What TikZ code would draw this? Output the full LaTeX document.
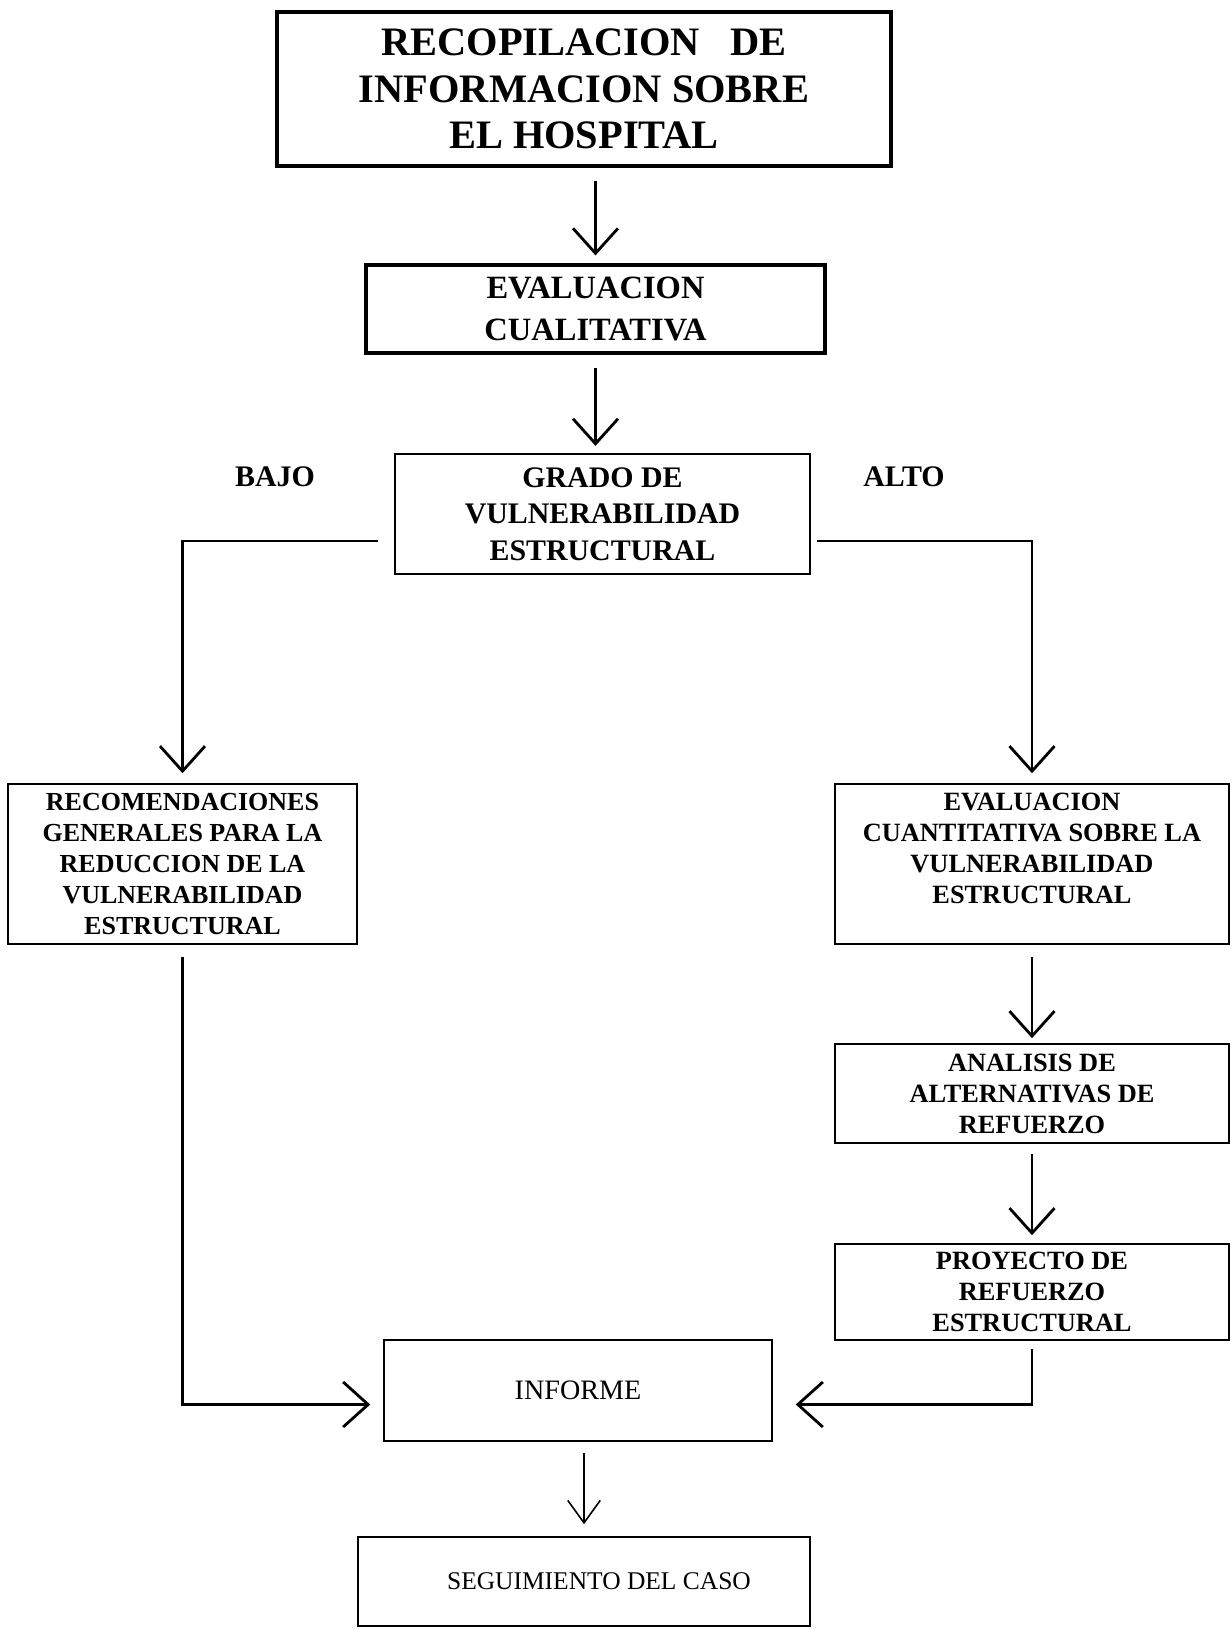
\documentclass[tikz,border=0pt]{standalone}
\usepackage{fontspec}
\setmainfont{Liberation Serif}
\usepackage{tikz}
\usetikzlibrary{arrows.meta}
\newcommand{\boxthick}{2.6pt}
\newcommand{\boxmid}{1.8pt}
\newcommand{\boxthin}{0.9pt}
\newcommand{\connline}{1.6pt}
\tikzset{
  box/.style={draw, align=center, inner sep=2pt},
  arr/.style={-{Straight Barb[length=5mm,width=9mm]}, line width=\connline},
  thinarr/.style={-{Straight Barb[length=4.5mm,width=6.5mm]}, line width=0.9pt},
}

\begin{document}
\begin{tikzpicture}[x=0.02cm, y=-0.02cm]
\useasboundingbox (0,0) rectangle (1231,1629);
\node[box, line width=\boxthick, minimum width=12.28cm, minimum height=3.08cm, font=\bfseries\fontsize{23}{26.5}\selectfont] (1) at (584,89) {RECOPILACION\hspace{0.75em}DE\\INFORMACION SOBRE\\EL HOSPITAL};
\node[box, line width=\boxmid, minimum width=9.18cm, minimum height=1.76cm, font=\bfseries\fontsize{18.5}{23.6}\selectfont] (2) at (595.5,309) {EVALUACION\\CUALITATIVA};
\node[box, line width=1.3pt, minimum width=8.3cm, minimum height=2.4cm, font=\bfseries\fontsize{17}{20.7}\selectfont] (3) at (602.5,514) {GRADO DE\\VULNERABILIDAD\\ESTRUCTURAL};
\node[font=\bfseries\fontsize{17}{20}\selectfont] (10) at (275,477) {BAJO};
\node[font=\bfseries\fontsize{17}{20}\selectfont] (11) at (904,477) {ALTO};
\node[box, line width=\boxthin, minimum width=6.98cm, minimum height=3.2cm, font=\bfseries\fontsize{14.8}{17.7}\selectfont] (4) at (182.5,864) {RECOMENDACIONES\\GENERALES PARA LA\\REDUCCION DE LA\\VULNERABILIDAD\\ESTRUCTURAL};
\node[box, line width=\boxthin, minimum width=7.88cm, minimum height=3.2cm, font=\bfseries\fontsize{15}{17.7}\selectfont] (5) at (1032,864) {EVALUACION\\CUANTITATIVA SOBRE LA\\VULNERABILIDAD\\ESTRUCTURAL\\\mbox{}};
\node[box, line width=\boxthin, minimum width=7.88cm, minimum height=1.98cm, font=\bfseries\fontsize{15}{17.7}\selectfont] (6) at (1032,1093.5) {ANALISIS DE\\ALTERNATIVAS DE\\REFUERZO};
\node[box, line width=\boxthin, minimum width=7.88cm, minimum height=1.92cm, font=\bfseries\fontsize{15}{17.7}\selectfont] (7) at (1032,1292) {PROYECTO DE\\REFUERZO\\ESTRUCTURAL};
\node[box, line width=\boxthin, minimum width=7.76cm, minimum height=2.02cm, font=\fontsize{16}{19}\selectfont] (8) at (578,1390.5) {INFORME};
\node[box, line width=\boxthin, minimum width=9.04cm, minimum height=1.78cm, font=\fontsize{14.5}{17}\selectfont] (9) at (584,1581.5) {\hspace{0.6cm}SEGUIMIENTO DEL CASO};
%main line
\draw[arr, shorten <=2.6mm, shorten >=1.6mm] (1.south -| 2.north) -- (2.north);
\draw[arr, shorten <=2.6mm, shorten >=1.4mm] (2.south) -- (2.south |- 3.north);
%bajo
\draw[arr, shorten <=3.2mm, shorten >=2mm] ([yshift=-5.4mm]3.west) -| (4.north);
\draw[arr, shorten <=2.4mm, shorten >=2.6mm] (4.south) |- ([yshift=-2.8mm]8.west);
%alto
\draw[arr, shorten <=1.2mm, shorten >=2mm] ([yshift=-5.4mm]3.east) -| (5.north);
\draw[arr, shorten <=2.4mm, shorten >=1mm] (5.south) -- (6.north);
\draw[arr, shorten <=2mm, shorten >=1.6mm] (6.south) -- (7.north);
\draw[arr, shorten <=1.6mm, shorten >=4.6mm] (7.south) |- ([yshift=-2.8mm]8.east);
%informe
\draw[thinarr, shorten <=2.2mm, shorten >=2.4mm] (8.south -| 9.north) -- (9.north);
\end{tikzpicture}
\end{document}
